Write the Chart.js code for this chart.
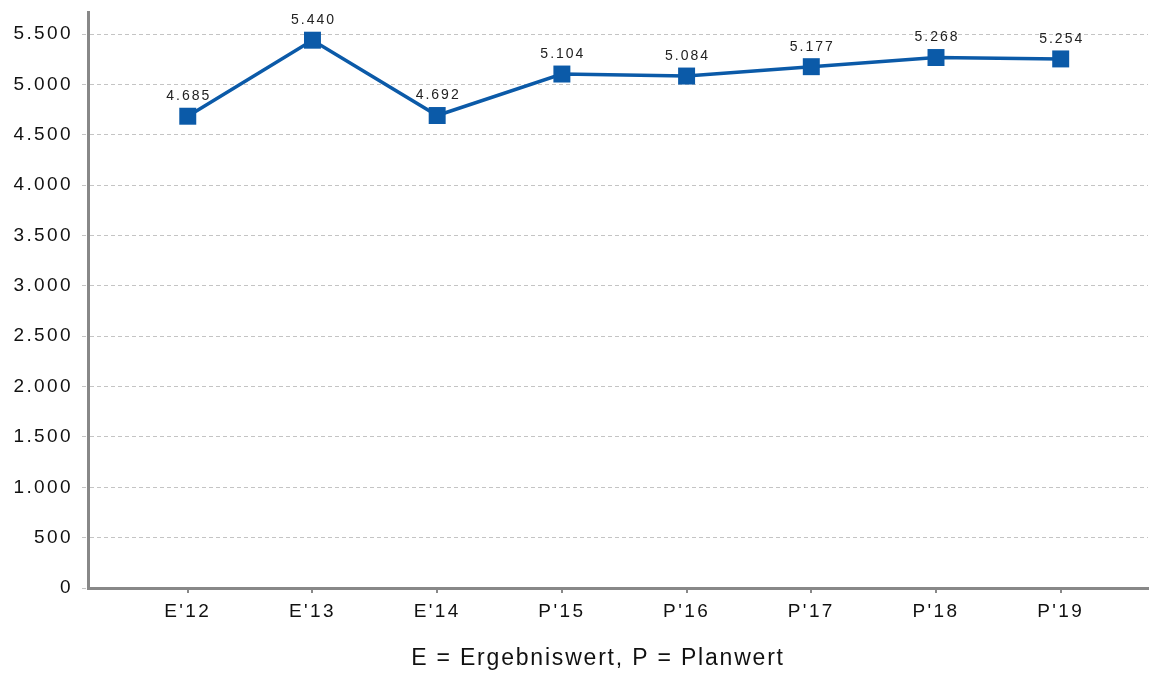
<!DOCTYPE html>
<html>
<head>
<meta charset="utf-8">
<script src="https://cdn.jsdelivr.net/npm/chart.js@4"></script>
<style>
  html, body { margin: 0; padding: 0; background: #fff; overflow: hidden; }
  #wrap { width: 1151px; height: 673px; position: relative; }
  canvas { display: block; }
</style>
</head>
<body>
<div id="wrap"><canvas id="lineChart"></canvas></div>
<script>
const categories = ["E'12", "E'13", "E'14", "P'15", "P'16", "P'17", "P'18", "P'19"];
const values = [4685, 5440, 4692, 5104, 5084, 5177, 5268, 5254];
const yTicks = [0, 500, 1000, 1500, 2000, 2500, 3000, 3500, 4000, 4500, 5000, 5500];
const caption = 'E = Ergebniswert, P = Planwert';

const fmt = v => v.toLocaleString('de-DE');
const blue = '#0b5aa8';
const family = '"Liberation Sans", Arial, sans-serif';

// wider letter spacing like the original, has to be set again after each resize
const spacingPlugin = {
  id: 'spacingPlugin',
  beforeUpdate(chart) { chart.ctx.letterSpacing = '2.4px'; },
  beforeDraw(chart) { chart.ctx.letterSpacing = '2.4px'; }
};

// draws the value over every point and the caption under the chart
const labelPlugin = {
  id: 'labelPlugin',
  afterDatasetsDraw(chart) {
    const ctx = chart.ctx;
    const meta = chart.getDatasetMeta(0);
    ctx.save();
    ctx.letterSpacing = '2px';
    ctx.font = '14px ' + family;
    ctx.fillStyle = '#222';
    ctx.textAlign = 'center';
    ctx.textBaseline = 'middle';
    meta.data.forEach((pt, i) => {
      ctx.fillText(fmt(values[i]), pt.x + 1, pt.y - 20);
    });
    ctx.letterSpacing = '1.8px';
    ctx.font = '23px ' + family;
    ctx.fillStyle = '#111';
    ctx.fillText(caption, 598, 659);
    ctx.restore();
  }
};

// no automatic label padding, the layout padding decides where the plot sits
const noPad = axis => {
  axis.paddingTop = 0;
  axis.paddingBottom = 0;
  axis.paddingLeft = 0;
  axis.paddingRight = 0;
};

const ctx = document.getElementById('lineChart').getContext('2d');

new Chart(ctx, {
  type: 'line',
  data: {
    datasets: [{
      data: values.map((v, i) => ({ x: i, y: v })),
      borderColor: blue,
      backgroundColor: blue,
      borderWidth: 3.5,
      pointStyle: 'rect',
      pointRadius: 12,
      pointHoverRadius: 12,
      pointBorderWidth: 0,
      tension: 0,
      clip: false
    }]
  },
  options: {
    responsive: true,
    maintainAspectRatio: false,
    animation: false,
    layout: { autoPadding: false, padding: { top: 12, right: 3, left: 0, bottom: 0 } },
    plugins: {
      legend: { display: false },
      tooltip: { enabled: false }
    },
    scales: {
      x: {
        type: 'linear',
        min: -0.8,
        max: 7.7,
        afterBuildTicks: axis => {
          axis.ticks = categories.map((c, i) => ({ value: i }));
        },
        afterFit: axis => { axis.height = 85; noPad(axis); },
        ticks: {
          callback: v => categories[v],
          color: '#111',
          font: { size: 19, family: family },
          padding: 7,
          maxRotation: 0
        },
        grid: {
          drawOnChartArea: false,
          drawTicks: true,
          tickLength: 5,
          color: '#888',
          lineWidth: 2
        },
        border: { color: '#888', width: 3 }
      },
      y: {
        min: 0,
        max: 5720,
        afterBuildTicks: axis => {
          axis.ticks = yTicks.map(v => ({ value: v }));
        },
        afterFit: axis => { axis.width = 88; noPad(axis); },
        ticks: {
          callback: v => fmt(v),
          color: '#111',
          font: { size: 19, family: family },
          padding: 9
        },
        grid: {
          color: '#c4c4c4',
          lineWidth: 1,
          tickLength: 6,
          tickBorderDash: [4, 3]
        },
        border: { color: '#888', width: 3, dash: [4, 3] }
      }
    }
  },
  plugins: [spacingPlugin, labelPlugin]
});
</script>
</body>
</html>
